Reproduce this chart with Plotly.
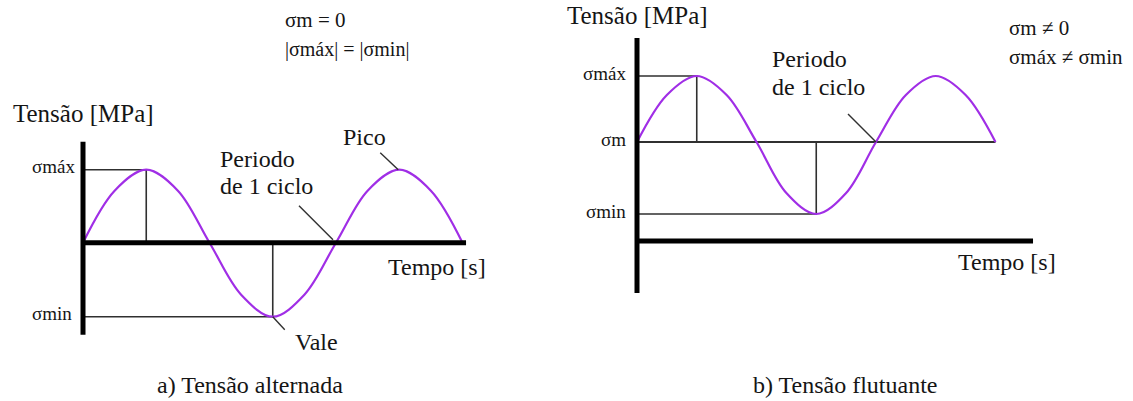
import plotly.graph_objects as go

# ---- data -------------------------------------------------------------
# time in cycles (s), stress in MPa
t_pts = [0, 0.125, 0.25, 0.375, 0.5, 0.625, 0.75, 0.875, 1.0, 1.125, 1.25, 1.375, 1.5]

# a) alternating stress: mean = 0, |max| = |min|
s_alt = [0, 52, 73, 52, 0, -52, -74, -52, 0, 52, 73, 52, 0]
sig_m_alt = 0

# b) fluctuating stress: mean != 0
s_flu = [99, 146, 165, 146, 99, 48, 27, 48, 99, 146, 165, 146, 99]
sig_m_flu = 99

captions = ["a) Tensão alternada", "b) Tensão flutuante"]
y_title = "Tensão [MPa]"
x_title = "Tempo [s]"
period_label = ["Periodo", "de 1 ciclo"]
formula_alt = ["σm = 0", "|σmáx| = |σmin|"]
formula_flu = ["σm ≠ 0", "σmáx ≠ σmin"]

# ---- styling ----------------------------------------------------------
W, H = 1133, 401
FONT = "'Liberation Serif', 'Times New Roman', Times, serif"
TXT = "#151515"
CURVE = "#a02ee6"
THIN = "#303030"
AXIS = "#000000"

fig = go.Figure()

# drawn axis extents (time end, stress top, stress bottom)
axis_alt = dict(t_end=1.514, s_top=101, s_bot=-92)
axis_flu = dict(t_end=1.657, s_top=203, s_bot=-52)


def add_panel(t, s, sig_m, ax, xa, ya):
    i_max = s.index(max(s))
    i_min = s.index(min(s))
    t_max, s_max = t[i_max], s[i_max]
    t_min, s_min = t[i_min], s[i_min]
    ref = dict(color=THIN, width=1.6)
    # max / min guide lines
    fig.add_trace(go.Scatter(x=[0, t_max, t_max], y=[s_max, s_max, sig_m],
                             mode="lines", line=ref, xaxis=xa, yaxis=ya))
    fig.add_trace(go.Scatter(x=[0, t_min, t_min], y=[s_min, s_min, sig_m],
                             mode="lines", line=ref, xaxis=xa, yaxis=ya))
    if sig_m != 0:
        fig.add_trace(go.Scatter(x=[0, t[-1]], y=[sig_m, sig_m], mode="lines",
                                 line=dict(color=THIN, width=2), xaxis=xa, yaxis=ya))
    # stress curve
    fig.add_trace(go.Scatter(x=t, y=s, mode="lines",
                             line=dict(color=CURVE, width=2.2, shape="spline", smoothing=1.0),
                             xaxis=xa, yaxis=ya))
    # thick axes
    fig.add_trace(go.Scatter(x=[0, 0], y=[ax["s_top"], ax["s_bot"]], mode="lines",
                             line=dict(color=AXIS, width=5), xaxis=xa, yaxis=ya))
    fig.add_trace(go.Scatter(x=[0, ax["t_end"]], y=[0, 0], mode="lines",
                             line=dict(color=AXIS, width=5), xaxis=xa, yaxis=ya))
    return t_max, s_max, t_min, s_min


ta_max, sa_max, ta_min, sa_min = add_panel(t_pts, s_alt, sig_m_alt, axis_alt, "x", "y")
tb_max, sb_max, tb_min, sb_min = add_panel(t_pts, s_flu, sig_m_flu, axis_flu, "x2", "y2")

ann = []


def label(text, x, y, xref, yref, size, xanchor="center", yanchor="middle", xshift=0, yshift=0):
    ann.append(dict(text=text, x=x, y=y, xref=xref, yref=yref, showarrow=False,
                    xanchor=xanchor, yanchor=yanchor, xshift=xshift, yshift=yshift,
                    font=dict(family=FONT, size=size, color=TXT)))


# panel a texts
label(y_title, 0, axis_alt["s_top"], "x", "y", 25, yshift=28)
label("σmáx", 0, sa_max, "x", "y", 19, xanchor="right", xshift=-6, yshift=3)
label("σmin", 0, sa_min, "x", "y", 19, xanchor="right", xshift=-9, yshift=3)
label(x_title, axis_alt["t_end"], 0, "x", "y", 24, xshift=-29, yshift=-24)
label("Pico", 1.25, sa_max, "x", "y", 24, xshift=-35, yshift=33)
label("Vale", ta_min, sa_min, "x", "y", 24, xanchor="left", xshift=20, yshift=-25)
label(period_label[0], 0.534, 0, "x", "y", 24, xanchor="left", yshift=84)
label(period_label[1], 0.534, 0, "x", "y", 24, xanchor="left", yshift=57)
label(formula_alt[0], 283 / W, 1 - 20 / H, "paper", "paper", 21, xanchor="left")
label(formula_alt[1], 283 / W, 1 - 49 / H, "paper", "paper", 20, xanchor="left")
label(captions[0], 250 / W, 1 - 385 / H, "paper", "paper", 24)

# panel b texts
label(y_title, 0, axis_flu["s_top"], "x2", "y2", 25, yshift=23)
label("σmáx", 0, sb_max, "x2", "y2", 19, xanchor="right", xshift=-9, yshift=3)
label("σm", 0, sig_m_flu, "x2", "y2", 19, xanchor="right", xshift=-9, yshift=3)
label("σmin", 0, sb_min, "x2", "y2", 19, xanchor="right", xshift=-9, yshift=3)
label(x_title, axis_flu["t_end"], 0, "x2", "y2", 24, xshift=-26, yshift=-21)
label(period_label[0], 0.556, sig_m_flu, "x2", "y2", 24, xanchor="left", yshift=83)
label(period_label[1], 0.556, sig_m_flu, "x2", "y2", 24, xanchor="left", yshift=55)
label(formula_flu[0], 1007 / W, 1 - 28 / H, "paper", "paper", 21, xanchor="left")
label(formula_flu[1], 1007 / W, 1 - 57 / H, "paper", "paper", 21, xanchor="left")
label(captions[1], 845 / W, 1 - 385 / H, "paper", "paper", 24)

# leader lines, anchored on the curve, offsets in pixels
leader = dict(color=THIN, width=1.4)
shapes = []


def lead(xref, yref, x, y, x0, y0, x1, y1):
    shapes.append(dict(type="line", xref=xref, yref=yref, xsizemode="pixel", ysizemode="pixel",
                       xanchor=x, yanchor=y, x0=x0, y0=y0, x1=x1, y1=y1, line=leader))


lead("x", "y", 1.25, sa_max, -19, 17, -1, 0)          # Pico
lead("x", "y", ta_min, sa_min, 0, 0, 12, -13)         # Vale
lead("x", "y", 1.0, 0, -37, 37, -3, 3)                # period (a)
lead("x2", "y2", 1.0, sig_m_flu, -28, 28, 0, 0)       # period (b)

# axes mapped so that the panels sit side by side
hidden = dict(visible=False, showgrid=False, zeroline=False, fixedrange=True)
fig.update_layout(
    width=W, height=H, margin=dict(l=0, r=0, t=0, b=0),
    paper_bgcolor="white", plot_bgcolor="white", showlegend=False,
    font=dict(family=FONT),
    xaxis=dict(hidden, domain=[0, 560 / W], range=[-83 / 253, (560 - 83) / 253]),
    yaxis=dict(hidden, domain=[0, 1], range=[242.7 - H, 242.7]),
    xaxis2=dict(hidden, domain=[560 / W, 1], range=[(560 - 637) / 239, (W - 637) / 239]),
    yaxis2=dict(hidden, domain=[0, 1], range=[241 - H, 241]),
    annotations=ann, shapes=shapes,
)

fig.write_html("out.html")
